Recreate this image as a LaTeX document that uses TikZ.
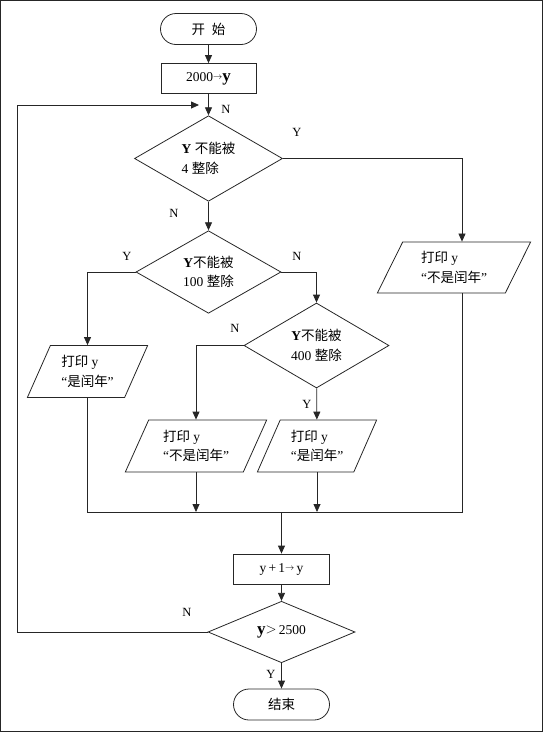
\documentclass[tikz,border=0pt]{standalone}
\usepackage{fontspec}
\setmainfont{Liberation Serif}
\newfontfamily\cjk{Noto Sans CJK SC}
\usetikzlibrary{shapes.geometric,shapes.misc,arrows.meta}
\begin{document}
\begin{tikzpicture}[x=1pt,y=-1pt,
  ln/.style={draw=black!85, line width=0.8pt},
  arr/.style={ln, -{Triangle[length=8pt,width=7pt]}},
  txt/.style={font=\fontsize{13.5}{19.5}\selectfont},
  term/.style={rounded rectangle, ln, txt, minimum width=96pt, minimum height=31pt, inner sep=0pt},
  proc/.style={rectangle, ln, txt, minimum width=95pt, minimum height=30pt, inner sep=0pt},
  dec/.style={diamond, ln, txt, inner sep=0pt},
  para/.style={trapezium, trapezium left angle=63, trapezium right angle=117,
    trapezium stretches=true, ln, txt, inner sep=0pt, align=left, minimum height=52pt},
  lab/.style={font=\fontsize{12.5}{12.5}\selectfont, inner sep=0pt}
]
\useasboundingbox (0,0) rectangle (543,732);
\draw[draw=black!85, line width=1pt] (0.5,0.5) rectangle (542.5,731.5);

% nodes
\node[term] (start) at (208.5,29) {\cjk 开\enspace 始};
\node[proc] (box1) at (208.5,78.5) {2000\raisebox{2pt}{\small$\rightarrow$}{\fontsize{17}{17}\selectfont\textbf{y}}};
\node[dec, minimum width=148pt, minimum height=81pt, align=left] (d1) at (208.5,158.5)
  {\textbf{Y} {\cjk 不能被}\\4 {\cjk 整除}};
\node[dec, minimum width=145pt, minimum height=80pt, align=center] (d2) at (208.5,272)
  {\textbf{Y}{\cjk 不能被}\\100 {\cjk 整除}};
\node[dec, minimum width=145pt, minimum height=85pt, align=center] (d3) at (316.5,345.5)
  {\textbf{Y}{\cjk 不能被}\\400 {\cjk 整除}};
\node[para, minimum width=121pt] (pL) at (87.5,371.5) {{\cjk 打印} y\\“{\cjk 是闰年}”};
\node[para, minimum width=142pt] (pM1) at (196,446) {{\cjk 打印} y\\“{\cjk 不是闰年}”};
\node[para, minimum width=120pt] (pM2) at (317,446) {{\cjk 打印} y\\“{\cjk 是闰年}”};
\node[para, minimum width=154pt, minimum height=51pt] (pR) at (454,267.5) {{\cjk 打印} y\\“{\cjk 不是闰年}”};
\node[proc, minimum width=96pt] (box2) at (281.5,569) {y\,+\,1\raisebox{2pt}{\small$\rightarrow$}\,y};
\node[dec, minimum width=147pt, minimum height=52pt] (d4) at (281.5,632)
  {{\fontsize{17}{17}\selectfont\textbf{y}}\raisebox{1.5pt}{$>$}\,2500};
\node[term] (end) at (281.5,704.5) {\cjk 结束};

% helper coordinates
\coordinate (xr) at (462,0);
\coordinate (xl) at (17,0);
\coordinate (m) at (281.5,512);
\coordinate (loopend) at (199,105);

% connectors
\draw[arr] (start) -- (box1);
\draw[arr] (box1) -- (d1);
\draw[arr] (d1.east) -| (xr |- pR.north);
\draw[arr] (d1) -- (d2);
\draw[arr] (d2.west) -| (pL.north);
\draw[arr] (d2.east) -| (d3.north);
\draw[arr] (d3.west) -| (pM1.north);
\draw[arr] (d3) -- (pM2);
\draw[ln] (pL.south) |- (xr |- m) -- (xr |- pR.south);
\draw[arr] (pM1.south) -- (pM1.south |- m);
\draw[arr] (pM2.south) -- (pM2.south |- m);
\draw[arr] (m) -- (box2);
\draw[arr] (box2) -- (d4);
\draw[arr] (d4) -- (end);
\draw[arr] (d4.west) -- (d4.west -| xl) -- (xl |- loopend) -- (loopend);

% labels
\node[lab] (lN1) at (226,109) {N};
\node[lab] (lY1) at (297,132) {Y};
\node[lab] (lN2) at (174,213) {N};
\node[lab] (lY2) at (127,256) {Y};
\node[lab] (lN3) at (297,256) {N};
\node[lab] (lN4) at (235,328) {N};
\node[lab] (lY3) at (307,404) {Y};
\node[lab] (lN5) at (187,612) {N};
\node[lab] (lY4) at (271,674) {Y};
\end{tikzpicture}
\end{document}
